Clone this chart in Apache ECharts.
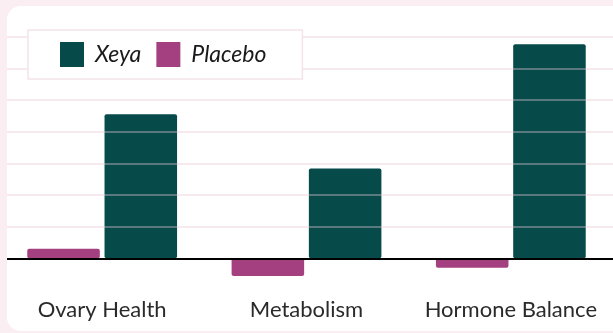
<!DOCTYPE html>
<html>
<head>
<meta charset="utf-8">
<script src="https://cdn.jsdelivr.net/npm/echarts@6/dist/echarts.min.js"></script>
<style>
  html, body { margin: 0; padding: 0; width: 613px; height: 333px; overflow: hidden; background: #fbeef2; }
  #card { position: absolute; left: 7px; top: 6px; width: 620px; height: 325px; background: #ffffff; border-radius: 14px; overflow: hidden; }
  #chart { position: absolute; left: -7px; top: -6px; width: 613px; height: 333px; }
</style>
</head>
<body>
<div id="card"><div id="chart"></div></div>
<script>
const categories = ['Ovary Health', 'Metabolism', 'Hormone Balance'];
const placeboValues = [3, -5.6, -3];
const xeyaValues = [45.5, 28.4, 67.6];
const yMin = -10, yMax = 70, yInterval = 10;

const chart = echarts.init(document.getElementById('chart'), null, { renderer: 'canvas' });
const fontFamily = 'Lato, "Noto Sans", sans-serif';
chart.setOption({
  animation: false,
  backgroundColor: 'transparent',
  legend: {
    data: ['Xeya', 'Placebo'],
    left: 28,
    top: 30,
    z: 10,
    orient: 'horizontal',
    itemWidth: 24,
    itemHeight: 25,
    itemGap: 15,
    padding: [12, 36, 12, 32],
    backgroundColor: '#ffffff',
    borderColor: '#f3e3e9',
    borderWidth: 1.5,
    icon: 'rect',
    textStyle: { fontFamily: fontFamily, fontStyle: 'italic', fontSize: 23, color: '#1a1a1a', padding: [0, 0, 0, 6] }
  },
  grid: { left: 0, right: 0, top: 36.7, bottom: 43, containLabel: false },
  xAxis: {
    type: 'category',
    data: categories,
    axisLine: { show: false, onZero: false },
    axisTick: { show: false },
    axisLabel: { margin: 9, fontFamily: fontFamily, fontSize: 22, color: '#2a2a2a', interval: 0 },
    splitLine: { show: false }
  },
  yAxis: {
    type: 'value',
    min: yMin, max: yMax, interval: yInterval,
    z: 5,
    axisLine: { show: false },
    axisTick: { show: false },
    axisLabel: { show: false },
    splitLine: { show: true, showMinLine: false, lineStyle: { color: 'rgba(232,200,214,0.5)', width: 1.5 } }
  },
  series: [
    {
      name: 'Placebo', type: 'bar', data: placeboValues,
      barWidth: '35.5%', barGap: '6.5%',
      itemStyle: { color: '#a4407f', borderRadius: 2 }
    },
    {
      name: 'Xeya', type: 'bar', data: xeyaValues,
      barWidth: '35.5%', barGap: '6.5%',
      itemStyle: { color: '#064b4a', borderRadius: 2 },
      markLine: {
        silent: true,
        symbol: 'none',
        label: { show: false },
        lineStyle: { color: '#000000', width: 2, type: 'solid' },
        data: [{ yAxis: 0 }]
      }
    }
  ]
});
</script>
</body>
</html>
